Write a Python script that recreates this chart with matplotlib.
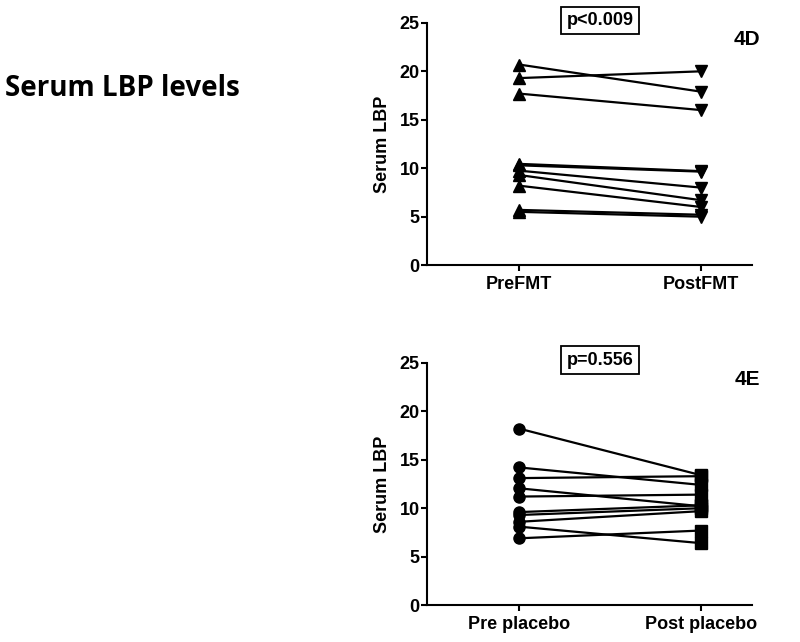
import matplotlib
matplotlib.use('Agg')
import matplotlib.pyplot as plt

# panel 4D: FMT group
fmt_groups = ['PreFMT', 'PostFMT']
fmt_pre = [20.7, 19.3, 17.7, 10.45, 10.3, 9.75, 9.3, 8.2, 5.7, 5.5]
fmt_post = [17.9, 20.0, 16.0, 9.7, 9.65, 8.0, 6.7, 6.0, 5.2, 5.0]

# panel 4E: placebo group
plc_groups = ['Pre placebo', 'Post placebo']
plc_pre = [18.2, 14.2, 13.1, 12.05, 11.2, 9.6, 9.3, 8.6, 8.1, 6.9]
plc_post = [13.4, 12.4, 13.3, 10.2, 11.4, 10.3, 10.0, 9.7, 6.4, 7.7]

yticks = [0, 5, 10, 15, 20, 25]

plt.rcParams['font.family'] = ['Liberation Sans', 'DejaVu Sans']

fig = plt.figure(figsize=(8, 6.42), dpi=100)
fig.text(0.006, 0.862, 'Serum LBP levels', family='Open Sans', fontsize=20,
         fontweight='bold', va='center', ha='left')


def panel(rect, groups, pre, post, m_pre, m_post, ptext, tag):
	ax = fig.add_axes(rect)
	for a, b in zip(pre, post):
		ax.plot([0, 1], [a, b], color='black', lw=1.6, zorder=2)
	ax.plot([0] * len(pre), pre, ls='none', marker=m_pre, color='black', ms=8, zorder=3)
	ax.plot([1] * len(post), post, ls='none', marker=m_post, color='black', ms=8, zorder=3)
	ax.set_xlim(-0.505, 1.28)
	ax.set_ylim(0, 25)
	ax.set_yticks(yticks)
	ax.set_xticks([0, 1])
	ax.set_xticklabels(groups, fontsize=13, fontweight='bold')
	for lab in ax.get_yticklabels():
		lab.set_fontweight('bold')
		lab.set_fontsize(13)
	ax.set_ylabel('Serum LBP', fontsize=13, fontweight='bold', labelpad=6)
	for s in ['top', 'right']:
		ax.spines[s].set_visible(False)
	for s in ['left', 'bottom']:
		ax.spines[s].set_linewidth(1.5)
	ax.tick_params(width=1.5, length=4)
	ax.tick_params(axis='y', pad=1.5)
	ax.text(0.532, 1.01, ptext, transform=ax.transAxes, ha='center', va='center',
	        fontsize=13, fontweight='bold',
	        bbox=dict(boxstyle='square,pad=0.3', fc='white', ec='black', lw=1.3))
	ax.text(0.985, 0.93, tag, transform=ax.transAxes, ha='center', va='center',
	        fontsize=15, fontweight='bold')
	return ax


panel([0.534, 0.587, 0.406, 0.3774], fmt_groups, fmt_pre, fmt_post, '^', 'v', 'p<0.009', '4D')
panel([0.534, 0.0572, 0.406, 0.378], plc_groups, plc_pre, plc_post, 'o', 's', 'p=0.556', '4E')

plt.savefig('out.png', dpi=100)
